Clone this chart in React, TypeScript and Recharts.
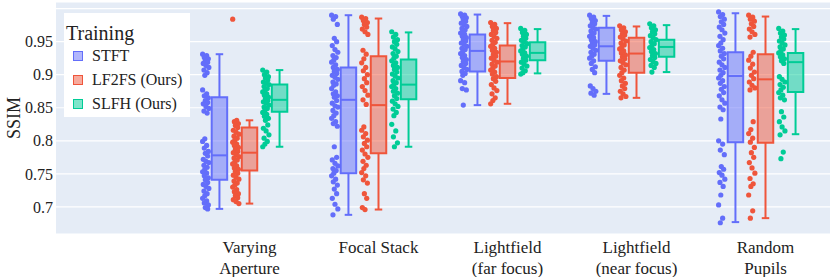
import {
  ComposedChart,
  Scatter,
  XAxis,
  YAxis,
  CartesianGrid,
  Legend,
  ReferenceArea,
  ReferenceLine,
} from "recharts";

const categories = [
  ["Varying", "Aperture"],
  ["Focal Stack"],
  ["Lightfield", "(far focus)"],
  ["Lightfield", "(near focus)"],
  ["Random", "Pupils"],
];

const seriesNames = ["STFT", "LF2FS (Ours)", "SLFH (Ours)"];
const seriesColors = ["#636EFA", "#EF553B", "#00CC96"];

const yTicks = [0.7, 0.75, 0.8, 0.85, 0.9, 0.95, 1];

// [lower whisker, q1, median, q3, upper whisker] per category
const stftBoxes = [
  [0.697, 0.741, 0.778, 0.866, 0.931],
  [0.688, 0.751, 0.862, 0.911, 0.99],
  [0.854, 0.905, 0.936, 0.961, 0.991],
  [0.871, 0.921, 0.943, 0.971, 0.989],
  [0.677, 0.798, 0.898, 0.934, 0.993],
];
const lf2fsBoxes = [
  [0.705, 0.755, 0.782, 0.82, 0.831],
  [0.696, 0.781, 0.854, 0.928, 0.985],
  [0.856, 0.895, 0.92, 0.944, 0.978],
  [0.865, 0.903, 0.932, 0.956, 0.973],
  [0.683, 0.797, 0.893, 0.931, 0.988],
];
const slfhBoxes = [
  [0.791, 0.844, 0.862, 0.885, 0.907],
  [0.791, 0.863, 0.885, 0.923, 0.964],
  [0.902, 0.922, 0.933, 0.949, 0.969],
  [0.904, 0.927, 0.942, 0.953, 0.975],
  [0.81, 0.874, 0.919, 0.933, 0.969],
];

const stftPoints = [
  [0.931, 0.929, 0.926, 0.924, 0.921, 0.919, 0.917, 0.914, 0.911, 0.907, 0.903, 0.899,
    0.877, 0.871, 0.868, 0.865, 0.861, 0.858, 0.856, 0.852, 0.849, 0.845, 0.842,
    0.803, 0.799, 0.793, 0.789, 0.784, 0.781, 0.777, 0.772, 0.769, 0.767, 0.763, 0.76,
    0.757, 0.753, 0.751, 0.747, 0.744, 0.741, 0.737, 0.734, 0.731, 0.728, 0.724, 0.72,
    0.717, 0.713, 0.709, 0.706, 0.703, 0.699, 0.697],
  [0.99, 0.988, 0.984, 0.976, 0.955, 0.95, 0.944, 0.938, 0.934, 0.929, 0.926, 0.922,
    0.919, 0.915, 0.911, 0.908, 0.905, 0.902, 0.899, 0.896, 0.893, 0.889, 0.886, 0.884,
    0.879, 0.874, 0.871, 0.868, 0.866, 0.861, 0.857, 0.853, 0.851, 0.846, 0.842, 0.838,
    0.834, 0.829, 0.826, 0.822, 0.791, 0.775, 0.771, 0.766, 0.762, 0.758, 0.755, 0.751,
    0.747, 0.742, 0.738, 0.733, 0.727, 0.72, 0.713, 0.704, 0.697, 0.688],
  [0.992, 0.99, 0.988, 0.986, 0.984, 0.981, 0.978, 0.976, 0.973, 0.97, 0.968, 0.966,
    0.963, 0.961, 0.958, 0.956, 0.953, 0.951, 0.948, 0.946, 0.943, 0.94, 0.938, 0.935,
    0.932, 0.929, 0.926, 0.923, 0.92, 0.917, 0.914, 0.911, 0.908, 0.905, 0.902, 0.899,
    0.891, 0.888, 0.879, 0.877, 0.854],
  [0.99, 0.987, 0.985, 0.982, 0.979, 0.977, 0.974, 0.971, 0.969, 0.966, 0.963, 0.961,
    0.958, 0.956, 0.953, 0.95, 0.948, 0.945, 0.943, 0.94, 0.937, 0.934, 0.931, 0.928,
    0.925, 0.921, 0.917, 0.912, 0.908, 0.903, 0.883, 0.879, 0.875, 0.872, 0.869],
  [0.995, 0.991, 0.988, 0.984, 0.98, 0.976, 0.972, 0.968, 0.963, 0.958, 0.953, 0.948,
    0.944, 0.94, 0.936, 0.932, 0.928, 0.924, 0.919, 0.915, 0.911, 0.907, 0.903, 0.899,
    0.895, 0.891, 0.887, 0.882, 0.878, 0.873, 0.868, 0.862, 0.857, 0.851, 0.847, 0.833,
    0.8, 0.795, 0.786, 0.779, 0.761, 0.757, 0.752, 0.748, 0.742, 0.737, 0.731, 0.718,
    0.703, 0.683, 0.676],
];

const lf2fsPoints = [
  [0.984, 0.831, 0.829, 0.826, 0.823, 0.82, 0.816, 0.813, 0.81, 0.807, 0.804, 0.801,
    0.798, 0.795, 0.793, 0.79, 0.787, 0.784, 0.782, 0.779, 0.776, 0.774, 0.771, 0.768,
    0.765, 0.762, 0.759, 0.757, 0.754, 0.751, 0.748, 0.745, 0.742, 0.739, 0.736, 0.733,
    0.73, 0.726, 0.723, 0.72, 0.717, 0.714, 0.711, 0.708, 0.705],
  [0.987, 0.985, 0.982, 0.979, 0.976, 0.972, 0.969, 0.965, 0.961, 0.937, 0.931, 0.924,
    0.918, 0.911, 0.906, 0.9, 0.894, 0.888, 0.882, 0.876, 0.869, 0.862, 0.855, 0.821,
    0.816, 0.811, 0.806, 0.801, 0.796, 0.791, 0.786, 0.78, 0.775, 0.769, 0.763, 0.758,
    0.752, 0.747, 0.741, 0.736, 0.72, 0.713, 0.699, 0.696],
  [0.979, 0.976, 0.973, 0.97, 0.967, 0.964, 0.961, 0.958, 0.955, 0.952, 0.949, 0.946,
    0.943, 0.94, 0.937, 0.934, 0.931, 0.928, 0.925, 0.922, 0.919, 0.916, 0.913, 0.91,
    0.907, 0.904, 0.901, 0.897, 0.894, 0.89, 0.885, 0.88, 0.876, 0.871, 0.865, 0.861, 0.856],
  [0.974, 0.971, 0.968, 0.965, 0.962, 0.96, 0.957, 0.954, 0.951, 0.948, 0.945, 0.942,
    0.939, 0.936, 0.933, 0.93, 0.927, 0.924, 0.921, 0.918, 0.915, 0.911, 0.907, 0.903,
    0.899, 0.895, 0.891, 0.887, 0.883, 0.879, 0.875, 0.871, 0.867, 0.865],
  [0.99, 0.987, 0.984, 0.981, 0.977, 0.973, 0.969, 0.965, 0.961, 0.957, 0.934, 0.928,
    0.922, 0.916, 0.91, 0.904, 0.899, 0.894, 0.889, 0.884, 0.88, 0.877, 0.829, 0.817,
    0.811, 0.804, 0.798, 0.79, 0.782, 0.775, 0.767, 0.759, 0.751, 0.743, 0.735, 0.731,
    0.718, 0.694, 0.683],
];

const slfhPoints = [
  [0.907, 0.904, 0.9, 0.897, 0.895, 0.892, 0.889, 0.887, 0.885, 0.882, 0.879, 0.876,
    0.874, 0.871, 0.869, 0.866, 0.864, 0.861, 0.859, 0.857, 0.854, 0.851, 0.849, 0.846,
    0.843, 0.84, 0.837, 0.834, 0.831, 0.824, 0.819, 0.815, 0.809, 0.804, 0.799, 0.795, 0.791],
  [0.965, 0.961, 0.957, 0.953, 0.95, 0.946, 0.942, 0.939, 0.935, 0.932, 0.928, 0.925,
    0.921, 0.918, 0.914, 0.911, 0.908, 0.904, 0.901, 0.898, 0.895, 0.891, 0.888, 0.885,
    0.882, 0.879, 0.875, 0.872, 0.868, 0.864, 0.86, 0.856, 0.852, 0.848, 0.843, 0.838,
    0.825, 0.815, 0.806, 0.797, 0.791],
  [0.97, 0.967, 0.964, 0.961, 0.958, 0.955, 0.952, 0.95, 0.947, 0.944, 0.942, 0.939,
    0.936, 0.933, 0.931, 0.928, 0.925, 0.922, 0.919, 0.916, 0.913, 0.91, 0.906, 0.903, 0.901],
  [0.977, 0.974, 0.971, 0.968, 0.965, 0.962, 0.959, 0.956, 0.953, 0.95, 0.947, 0.944,
    0.941, 0.938, 0.935, 0.932, 0.929, 0.926, 0.923, 0.92, 0.917, 0.914, 0.911, 0.904],
  [0.97, 0.966, 0.963, 0.96, 0.957, 0.954, 0.951, 0.948, 0.945, 0.942, 0.939, 0.936,
    0.933, 0.93, 0.927, 0.924, 0.921, 0.917, 0.897, 0.893, 0.889, 0.885, 0.881, 0.877,
    0.873, 0.869, 0.865, 0.862, 0.844, 0.836, 0.829, 0.821, 0.815, 0.809, 0.783, 0.773],
];

const allBoxes = [stftBoxes, lf2fsBoxes, slfhBoxes];
const allPoints = [stftPoints, lf2fsPoints, slfhPoints];

// layout inside one category (x axis units, 1 = one category)
const traceOffset = [-0.233, 0, 0.233];
const boxHalf = 0.06;
const capHalf = 0.029;
const pointShift = -0.107;
const jitterPattern = [-0.9, 0.3, -0.4, 0.8, -0.1, 0.6, -0.7, 0.1, 0.95, -0.5, 0.45, -0.25];
const jitterWidth = 0.026;

const FONT = "'Liberation Serif', 'Times New Roman', serif";
const TEXT = "#222";

const scatterData = allPoints.map((groups, s) =>
  groups.flatMap((values, c) =>
    values.map((v, i) => ({
      x: c + traceOffset[s] + pointShift + jitterPattern[i % jitterPattern.length] * jitterWidth,
      y: v,
    }))
  )
);

function CategoryTick({ x, y, payload }: any) {
  const lines = categories[payload.value] || [];
  return (
    <text x={x} y={y + 16.5} textAnchor="middle" fontFamily={FONT} fontSize={17} fill={TEXT}>
      {lines.map((line, i) => (
        <tspan key={i} x={x} dy={i === 0 ? 0 : 21}>
          {line}
        </tspan>
      ))}
    </text>
  );
}

function TrainingLegend() {
  return (
    <div
      style={{
        width: 126,
        height: 104,
        background: "#fff",
        fontFamily: FONT,
        color: TEXT,
        boxSizing: "border-box",
        paddingTop: 9,
        paddingLeft: 2,
      }}
    >
      <div style={{ fontSize: 20, lineHeight: "22px", height: 22 }}>Training</div>
      {seriesNames.map((name, i) => (
        <div key={name} style={{ height: 24, display: "flex", alignItems: "center", fontSize: 16 }}>
          <span
            style={{
              display: "inline-block",
              width: 8,
              height: 8,
              marginLeft: 7,
              marginRight: 9,
              border: `1.5px solid ${seriesColors[i]}`,
              background: seriesColors[i] + "80",
            }}
          />
          {name}
        </div>
      ))}
    </div>
  );
}

export default function App() {
  return (
    <div style={{ position: "absolute", left: 0, top: 0 }}>
      <ComposedChart width={830} height={277} margin={{ top: 2, right: 0, bottom: 0, left: 0 }}>
        <CartesianGrid fill="#E5ECF6" stroke="#fff" strokeWidth={1.2} vertical={false} />
        <XAxis
          type="number"
          dataKey="x"
          domain={[-1.5, 4.5]}
          ticks={[0, 1, 2, 3, 4]}
          interval={0}
          height={43}
          axisLine={false}
          tickLine={false}
          tickSize={0}
          tickMargin={2}
          tick={<CategoryTick />}
          allowDataOverflow
        />
        <YAxis
          type="number"
          dataKey="y"
          domain={[0.659, 1.01]}
          ticks={yTicks}
          width={56}
          axisLine={false}
          tickLine={false}
          tickSize={0}
          tickMargin={3}
          allowDataOverflow
          tickFormatter={(v: number) => (v >= 1 ? "" : String(v))}
          tick={{ fontFamily: FONT, fontSize: 16, fill: TEXT }}
          label={{
            value: "SSIM",
            angle: -90,
            position: "insideLeft",
            offset: 14,
            style: { textAnchor: "middle", fontFamily: FONT, fontSize: 18, fill: TEXT },
          }}
        />
        <Legend
          layout="vertical"
          align="center"
          verticalAlign="middle"
          content={<TrainingLegend />}
          wrapperStyle={{ left: 64, top: 13, width: 126, height: 104 }}
        />
        {allBoxes.map((boxes, s) =>
          boxes.map(([lo, q1, med, q3, hi], c) => {
            const cx = c + traceOffset[s];
            const color = seriesColors[s];
            return [
              <ReferenceArea
                key={`a${s}-${c}`}
                x1={cx - boxHalf}
                x2={cx + boxHalf}
                y1={q1}
                y2={q3}
                fill={color}
                fillOpacity={0.5}
                stroke={color}
                strokeWidth={2}
                strokeOpacity={1}
              />,
              <ReferenceLine key={`m${s}-${c}`} segment={[{ x: cx - boxHalf, y: med }, { x: cx + boxHalf, y: med }]} stroke={color} strokeWidth={2} />,
              <ReferenceLine key={`wu${s}-${c}`} segment={[{ x: cx, y: q3 }, { x: cx, y: hi }]} stroke={color} strokeWidth={2} />,
              <ReferenceLine key={`wl${s}-${c}`} segment={[{ x: cx, y: q1 }, { x: cx, y: lo }]} stroke={color} strokeWidth={2} />,
              <ReferenceLine key={`cu${s}-${c}`} segment={[{ x: cx - capHalf, y: hi }, { x: cx + capHalf, y: hi }]} stroke={color} strokeWidth={2} />,
              <ReferenceLine key={`cl${s}-${c}`} segment={[{ x: cx - capHalf, y: lo }, { x: cx + capHalf, y: lo }]} stroke={color} strokeWidth={2} />,
            ];
          })
        )}
        {seriesNames.map((name, s) => (
          <Scatter
            key={name}
            name={name}
            data={scatterData[s]}
            fill={seriesColors[s]}
            isAnimationActive={false}
            shape={(p: any) => <circle cx={p.cx} cy={p.cy} r={2.6} fill={seriesColors[s]} />}
          />
        ))}
      </ComposedChart>
    </div>
  );
}
